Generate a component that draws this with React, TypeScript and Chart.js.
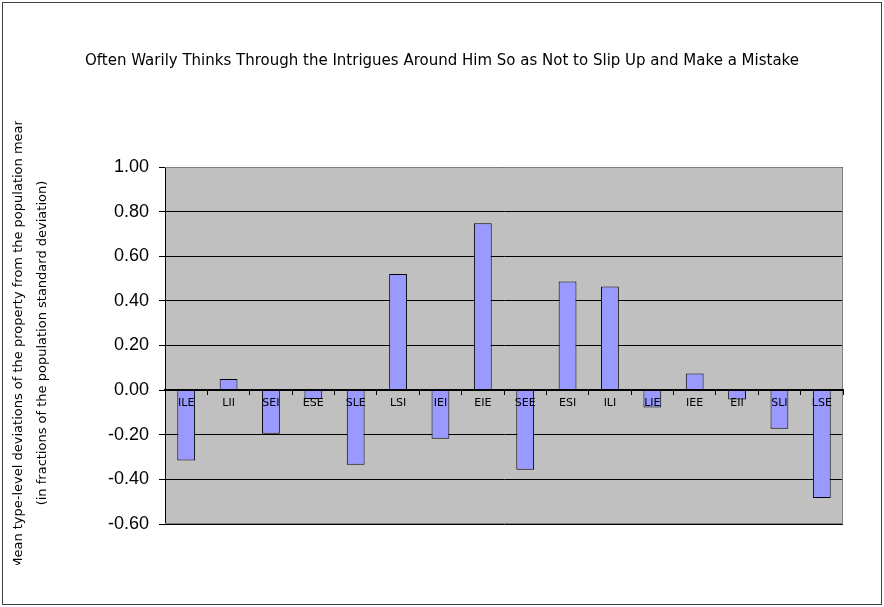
import { useEffect, useRef } from "react";
import { Chart, registerables } from "chart.js";

Chart.register(...registerables);

const types = [
  "ILE", "LII", "SEI", "ESE", "SLE", "LSI", "IEI", "EIE",
  "SEE", "ESI", "ILI", "LIE", "IEE", "EII", "SLI", "LSE",
];

const deviations = [
  -0.315, 0.05, -0.195, -0.04, -0.335, 0.52, -0.218, 0.748,
  -0.357, 0.487, 0.464, -0.078, 0.075, -0.042, -0.173, -0.483,
];

const chartTitle =
  "Often Warily Thinks Through the Intrigues Around Him So as Not to Slip Up and Make a Mistake";

const yTitleLines = [
  "Mean type-level deviations of the property from the population mean",
  "(in fractions of the population standard deviation)",
];

// grey plot background with a grey frame on top / right / bottom
const plotAreaPlugin = {
  id: "plotArea",
  beforeDraw(chart: any) {
    const { ctx, chartArea: a } = chart;
    ctx.save();
    ctx.fillStyle = "#C0C0C0";
    ctx.fillRect(a.left, a.top, a.right - a.left, a.bottom - a.top);
    ctx.restore();
  },
  beforeDatasetsDraw(chart: any) {
    const { ctx, chartArea: a } = chart;
    ctx.save();
    ctx.strokeStyle = "#808080";
    ctx.lineWidth = 1;
    ctx.beginPath();
    ctx.moveTo(a.left, a.top + 0.5);
    ctx.lineTo(a.right - 0.5, a.top + 0.5);
    ctx.lineTo(a.right - 0.5, a.bottom - 0.5);
    ctx.lineTo(a.left, a.bottom - 0.5);
    ctx.stroke();
    ctx.restore();
  },
};

// two-line rotated y-axis title, clipped at both ends like the original
const yTitlePlugin = {
  id: "yTitle",
  afterDraw(chart: any) {
    const { ctx } = chart;
    const cy = 343;
    ctx.save();
    ctx.beginPath();
    ctx.rect(0, 121, 70, 444);
    ctx.clip();
    ctx.font = "13px 'DejaVu Sans'";
    ctx.fillStyle = "#000";
    ctx.textAlign = "center";
    ctx.textBaseline = "middle";
    [19, 43].forEach((x, i) => {
      ctx.save();
      ctx.translate(x, cy);
      ctx.rotate(-Math.PI / 2);
      ctx.fillText(yTitleLines[i], 0, 0);
      ctx.restore();
    });
    ctx.restore();
  },
};

function DeviationChart() {
  const chartRef = useRef<HTMLCanvasElement>(null);
  const chartInstanceRef = useRef<Chart | null>(null);

  useEffect(() => {
    if (!chartRef.current) return;
    if (chartInstanceRef.current) {
      chartInstanceRef.current.destroy();
    }

    chartInstanceRef.current = new Chart(chartRef.current, {
      type: "bar",
      data: {
        labels: types,
        datasets: [
          {
            data: deviations,
            backgroundColor: "#9999FF",
            borderColor: "#000000",
            borderWidth: 1,
            barPercentage: 0.42,
            categoryPercentage: 1,
          },
        ],
      },
      options: {
        responsive: false,
        animation: false,
        layout: { padding: { left: 0, right: 0, bottom: 83, top: 0 } },
        plugins: {
          legend: { display: false },
          tooltip: { enabled: false },
          title: {
            display: true,
            text: chartTitle,
            color: "#000",
            font: { family: "'DejaVu Sans'", size: 15, weight: "normal" },
            padding: { top: 52, bottom: 97 },
          },
        },
        scales: {
          x: {
            type: "category",
            position: { y: 0 },
            grid: {
              display: true,
              offset: true,
              drawOnChartArea: false,
              color: "#000",
              tickLength: 4,
              z: 1,
            },
            border: { display: true, color: "#000", width: 2, z: 1 },
            ticks: {
              color: "#000",
              font: { family: "'DejaVu Sans'", size: 11 },
              padding: 2,
              autoSkip: false,
              maxRotation: 0,
              z: 1,
            },
          },
          y: {
            min: -0.6,
            max: 1,
            afterFit(scale: any) {
              scale.width = 165;
            },
            grid: { color: "#000", tickLength: 6 },
            border: { display: true, color: "#000", width: 1 },
            ticks: {
              stepSize: 0.2,
              color: "#000",
              padding: 10,
              font: { family: "'Liberation Sans'", size: 18 },
              callback: (v: any) => (Math.abs(Number(v)) < 1e-9 ? 0 : Number(v)).toFixed(2),
            },
          },
          // empty right-hand margin so the title stays centred on the whole frame
          margin: {
            position: "right",
            display: true,
            grid: { display: false },
            border: { display: false },
            ticks: { display: false },
            afterFit(scale: any) {
              scale.width = 41;
            },
          },
        },
      },
      plugins: [plotAreaPlugin, yTitlePlugin],
    });

    return () => {
      if (chartInstanceRef.current) {
        chartInstanceRef.current.destroy();
        chartInstanceRef.current = null;
      }
    };
  }, []);

  return (
    <div style={{ position: "absolute", left: 0, top: 0, width: 884, height: 607, background: "#fff" }}>
      <canvas ref={chartRef} width={884} height={607} style={{ position: "absolute", left: 0, top: 0 }} />
      <div
        style={{
          position: "absolute",
          left: 2,
          top: 2,
          width: 880,
          height: 603,
          boxSizing: "border-box",
          border: "1px solid #404040",
          pointerEvents: "none",
        }}
      />
    </div>
  );
}

export default function App() {
  return <DeviationChart />;
}
